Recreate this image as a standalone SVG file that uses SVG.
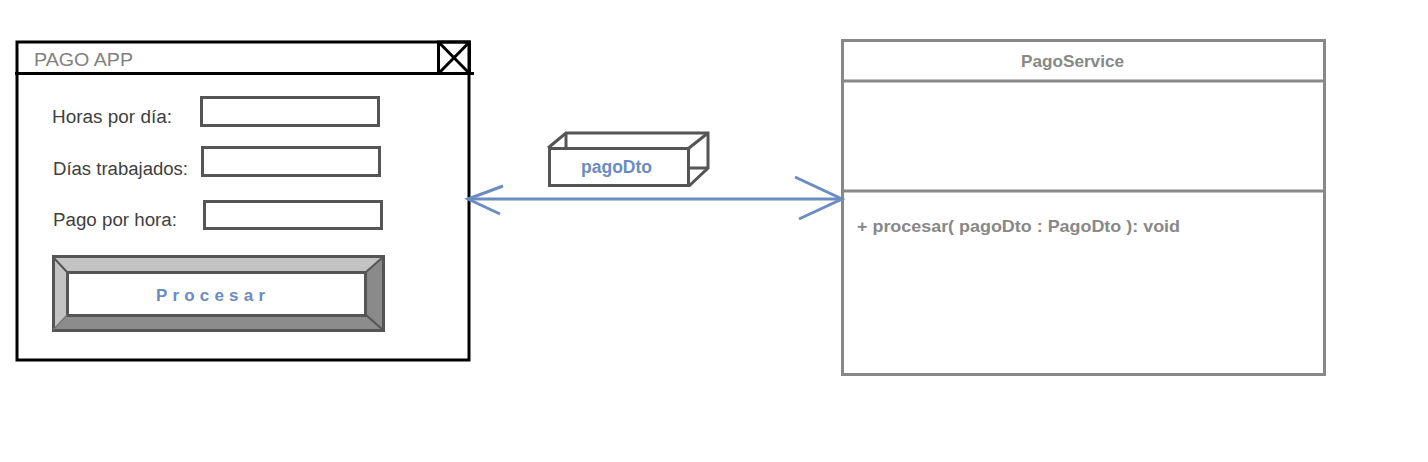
<svg xmlns="http://www.w3.org/2000/svg" width="1428" height="462" viewBox="0 0 1428 462">
<style>
.lbl{font-family:"Liberation Sans",Arial,sans-serif;font-size:18px;fill:#404040}
.field{fill:#fff;stroke:#555;stroke-width:3}
.blue{font-family:"Liberation Sans",Arial,sans-serif;font-weight:bold;fill:#6b8cc0}
.gray{font-family:"Liberation Sans",Arial,sans-serif;font-weight:bold;fill:#888;font-size:17px}
</style>
<rect width="1428" height="462" fill="#fff"/>
<g id="pago-app">
  <rect x="17" y="42" width="452" height="318" fill="#fff" stroke="#000" stroke-width="3"/>
  <line x1="15" y1="73.5" x2="474" y2="73.5" stroke="#000" stroke-width="3"/>
  <rect x="438.5" y="42" width="31" height="31.5" fill="none" stroke="#000" stroke-width="3"/>
  <line x1="438.5" y1="42" x2="469.5" y2="73.5" stroke="#000" stroke-width="3"/>
  <line x1="469.5" y1="42" x2="438.5" y2="73.5" stroke="#000" stroke-width="3"/>
  <text x="34" y="66" font-family="Liberation Sans,Arial,sans-serif" font-size="19" fill="#808080" textLength="99" lengthAdjust="spacingAndGlyphs">PAGO APP</text>
  <text class="lbl" x="52" y="123" textLength="120" lengthAdjust="spacingAndGlyphs">Horas por día:</text>
  <rect class="field" x="201.5" y="97.5" width="177" height="28"/>
  <text class="lbl" x="53" y="175" textLength="135" lengthAdjust="spacingAndGlyphs">Días trabajados:</text>
  <rect class="field" x="202.5" y="147.5" width="177" height="28"/>
  <text class="lbl" x="53" y="226" textLength="124" lengthAdjust="spacingAndGlyphs">Pago por hora:</text>
  <rect class="field" x="204.5" y="201.5" width="177" height="27"/>
  <g id="btn-procesar">
    <polygon points="52,256 384,256 366,272 67,272" fill="#c3c3c3"/>
    <polygon points="52,256 67,272 67,315 52,331" fill="#c3c3c3"/>
    <polygon points="384,256 384,331 366,315 366,272" fill="#8a8a8a"/>
    <polygon points="52,331 67,315 366,315 384,331" fill="#8c8c8c"/>
    <rect x="53.5" y="256.5" width="330" height="74" fill="none" stroke="#555" stroke-width="3"/>
    <rect x="67.5" y="272.5" width="298" height="43" fill="#fff" stroke="#555" stroke-width="3"/>
    <line x1="53" y1="257" x2="67" y2="272" stroke="#555" stroke-width="2"/>
    <line x1="383" y1="257" x2="366" y2="272" stroke="#555" stroke-width="2"/>
    <line x1="366" y1="315" x2="383" y2="330" stroke="#555" stroke-width="2"/>
    <line x1="67" y1="315" x2="53" y2="330" stroke="#777" stroke-width="1.5"/>
    <text class="blue" x="156" y="301" font-size="17" textLength="109" lengthAdjust="spacing">Procesar</text>
  </g>
</g>
<g id="pago-dto">
  <polyline points="548,148 566,133 708,133 708,168 689,186" fill="none" stroke="#555" stroke-width="3"/>
  <line x1="566" y1="133" x2="566" y2="148" stroke="#555" stroke-width="3"/>
  <line x1="689" y1="148" x2="708" y2="133" stroke="#555" stroke-width="3"/>
  <line x1="689" y1="168" x2="708" y2="168" stroke="#555" stroke-width="3"/>
  <rect x="549.5" y="148.5" width="139" height="37" fill="#fff" stroke="#555" stroke-width="3"/>
  <text class="blue" x="581" y="173" font-size="18" textLength="71" lengthAdjust="spacingAndGlyphs">pagoDto</text>
</g>
<g id="pago-service">
  <rect x="842.5" y="40.5" width="482" height="334" fill="#fff" stroke="#888" stroke-width="3"/>
  <line x1="841" y1="81" x2="1326" y2="81" stroke="#888" stroke-width="3"/>
  <line x1="841" y1="191" x2="1326" y2="191" stroke="#888" stroke-width="3"/>
  <text class="gray" x="1021" y="67" textLength="103" lengthAdjust="spacingAndGlyphs">PagoService</text>
  <text class="gray" x="857" y="232" textLength="323" lengthAdjust="spacingAndGlyphs">+ procesar( pagoDto : PagoDto ): void</text>
</g>
<g id="connectors" stroke="#6b8cc0" stroke-width="3" fill="none">
  <line x1="468" y1="199" x2="842" y2="199"/>
  <polyline points="503,186 468,199 500,214"/>
  <polyline points="795,177 842,199 799,219"/>
</g>
</svg>
